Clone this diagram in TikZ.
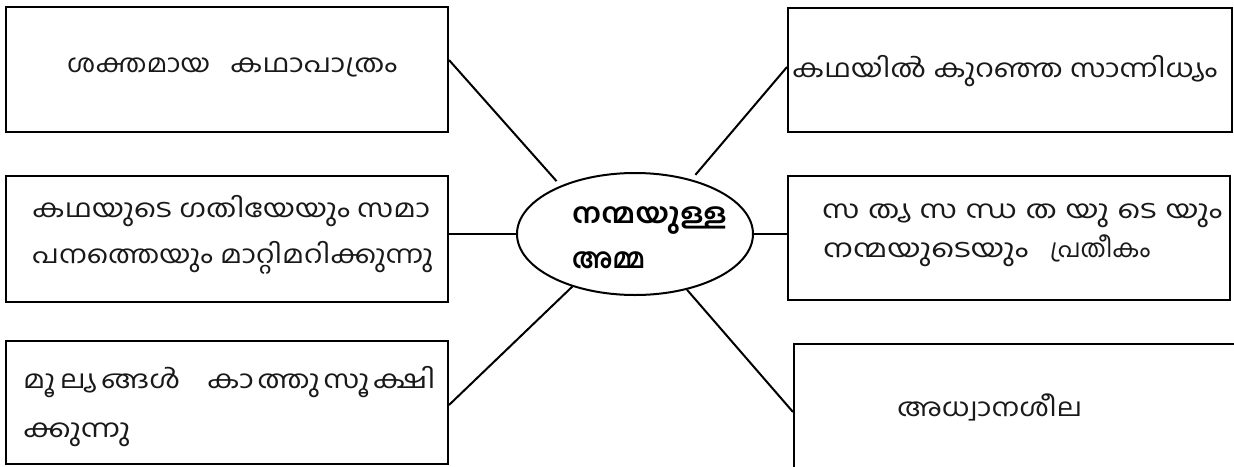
\documentclass[tikz,border=0pt]{standalone}
\usepackage{fontspec}
\usetikzlibrary{shapes.geometric}
\newfontfamily\ml[Script=Malayalam]{Hind Kochi}
\newcommand{\fitw}[2]{\resizebox{#1}{\height}{#2}}
\begin{document}
\begin{tikzpicture}[x=1pt,y=-1pt,
  box/.style={draw=black,line width=2pt,rectangle,inner sep=0pt},
  conn/.style={draw=black,line width=2pt},
  lbl/.style={font=\ml\fontsize{25}{30}\selectfont,inner sep=0pt,text=black!90,anchor=base west},
  ctr/.style={font=\ml\bfseries\fontsize{28}{32}\selectfont,inner sep=0pt,text=black,anchor=base west}]
\clip (0,0) rectangle (1234,466);
\fill[white] (0,0) rectangle (1234,466);
% boxes
\node[box,minimum width=442pt,minimum height=125pt] (b1) at (227,69.5) {};
\node[box,minimum width=444pt,minimum height=124pt] (b2) at (1010,70) {};
\node[box,minimum width=442pt,minimum height=126pt] (b3) at (227,239) {};
\node[box,minimum width=442pt,minimum height=124pt] (b4) at (1009,238) {};
\node[box,minimum width=442pt,minimum height=123pt] (b5) at (227,402.5) {};
\node[box,minimum width=456pt,minimum height=136pt] (b6) at (1022,412) {};
% ellipse
\node[draw=black,line width=2pt,ellipse,minimum width=236pt,minimum height=122pt,inner sep=0pt] (e) at (635,234) {};
% texts
\node[lbl] (t1) at (67,72) {\makebox[330pt][s]{\fitw{143pt}{ശക്തമായ}\hfill\fitw{167pt}{കഥാപാത്രം}}};
\node[lbl] (t2) at (792,77) {\fitw{425pt}{കഥയിൽ കുറഞ്ഞ സാന്നിധ്യം}};
\node[lbl] (t3a) at (32,217) {\fitw{398pt}{കഥയുടെ ഗതിയേയും സമാ}};
\node[lbl] (t3b) at (32,263) {\fitw{401pt}{പനത്തെയും മാറ്റിമറിക്കുന്നു}};
\node[lbl] (t4a) at (822,218) {\fitw{400pt}{സ\hspace{7pt}ത്യ\hspace{7pt}സ\hspace{7pt}ന്ധ\hspace{7pt}ത\hspace{7pt}യു\hspace{7pt}ടെ\hspace{7pt}യും}};
\node[lbl] (t4b) at (823,257) {\fitw{205pt}{നന്മയുടെയും}\hspace{22pt}\fitw{100pt}{പ്രതീകം}};
\node[lbl] (t5a) at (23,388) {\fitw{157pt}{മൂ\hspace{4pt}ല്യ\hspace{4pt}ങ്ങൾ}\hspace{27pt}\fitw{228pt}{കാ\hspace{3pt}ത്തു\hspace{3pt}സൂ\hspace{3pt}ക്ഷി}};
\node[lbl] (t5b) at (23,437) {\fitw{107pt}{ക്കുന്നു}};
\node[lbl] (t6) at (897,416) {\fitw{185pt}{അധ്വാനശീല}};
\node[ctr] (tc1) at (572,223) {\fitw{155pt}{നന്മയുള്ള}};
\node[ctr] (tc2) at (572,268) {\fitw{73pt}{അമ്മ}};
% connectors
\draw[conn,shorten >=6pt] ([yshift=9.5pt]b1.east) -- (e.147);
\draw[conn,shorten >=6pt] ([yshift=3pt]b2.west) -- (e.44);
\draw[conn] (e.west -| b3.east) -- (e.west);
\draw[conn] (e.east) -- (e.east -| b4.west);
\draw[conn] ([yshift=-2.5pt]b5.east) -- (e.220);
\draw[conn] (e.313) -- (b6.west);
\end{tikzpicture}
\end{document}
